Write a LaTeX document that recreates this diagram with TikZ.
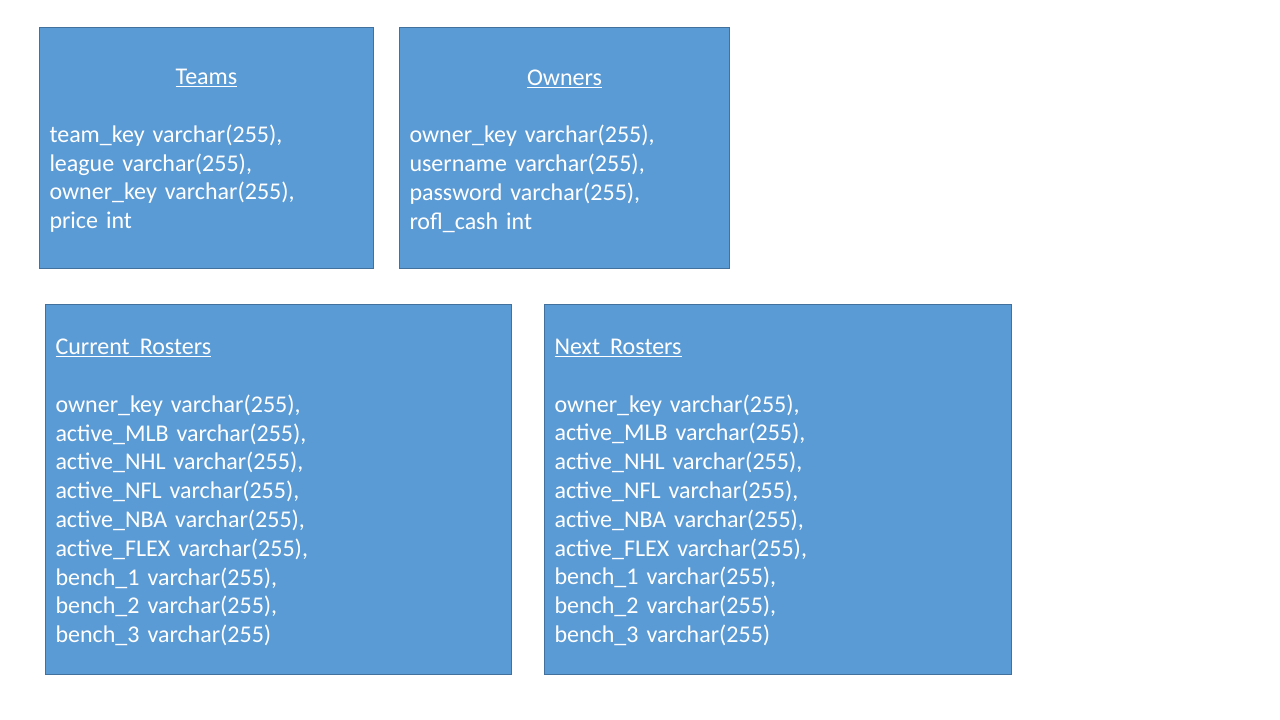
\documentclass[tikz,border=0pt]{standalone}
\usepackage{fontspec}
\setmainfont{Carlito}
\definecolor{tablefill}{HTML}{5B9BD5}
\definecolor{tableedge}{HTML}{41719C}
\newcommand{\tabletitle}[1]{\underline{#1}}
\newcommand{\gap}{\hspace{0.42em}}
\begin{document}
\begin{tikzpicture}[x=1pt,y=-1pt,
  tablebox/.style={draw=tableedge, fill=tablefill, line width=1pt,
    anchor=north west, inner sep=0pt},
  fields/.style={inner xsep=0pt, inner ysep=0pt, text=white,
    align=left, font=\fontsize{24}{28.8}\selectfont}]
\useasboundingbox[fill=white] (0,0) rectangle (1280,720);

% table boxes
\node[tablebox, minimum width=334pt, minimum height=241pt] (teams) at (39,27) {};
\node[tablebox, minimum width=330pt, minimum height=241pt] (owners) at (399,27) {};
\node[tablebox, minimum width=466pt, minimum height=370pt] (current) at (45,304) {};
\node[tablebox, minimum width=467pt, minimum height=370pt] (next) at (544,304) {};

% Teams fields
\node[fields, text width=314pt] (teamsfields) at ([yshift=-3pt]teams.center)
  {\makebox[\linewidth]{\tabletitle{Teams}}\\[28.8pt]
   team\_key varchar(255),\\
   league varchar(255),\\
   owner\_key varchar(255),\\
   price int};

% Owners fields
\node[fields, text width=310pt] (ownersfields) at ([yshift=-3pt]owners.center)
  {\makebox[\linewidth]{\tabletitle{Owners}}\\[28.8pt]
   owner\_key varchar(255),\\
   username varchar(255),\\
   password varchar(255),\\
   rofl\_cash int};

% Current rosters fields
\node[fields, text width=446pt] (currentfields) at ([yshift=-3pt]current.center)
  {\tabletitle{Current\gap Rosters}\\[28.8pt]
   owner\_key varchar(255),\\
   active\_MLB varchar(255),\\
   active\_NHL varchar(255),\\
   active\_NFL varchar(255),\\
   active\_NBA varchar(255),\\
   active\_FLEX varchar(255),\\
   bench\_1 varchar(255),\\
   bench\_2 varchar(255),\\
   bench\_3 varchar(255)};

% Next rosters fields
\node[fields, text width=447pt] (nextfields) at ([yshift=-3pt]next.center)
  {\tabletitle{Next\gap Rosters}\\[28.8pt]
   owner\_key varchar(255),\\
   active\_MLB varchar(255),\\
   active\_NHL varchar(255),\\
   active\_NFL varchar(255),\\
   active\_NBA varchar(255),\\
   active\_FLEX varchar(255),\\
   bench\_1 varchar(255),\\
   bench\_2 varchar(255),\\
   bench\_3 varchar(255)};
\end{tikzpicture}
\end{document}
